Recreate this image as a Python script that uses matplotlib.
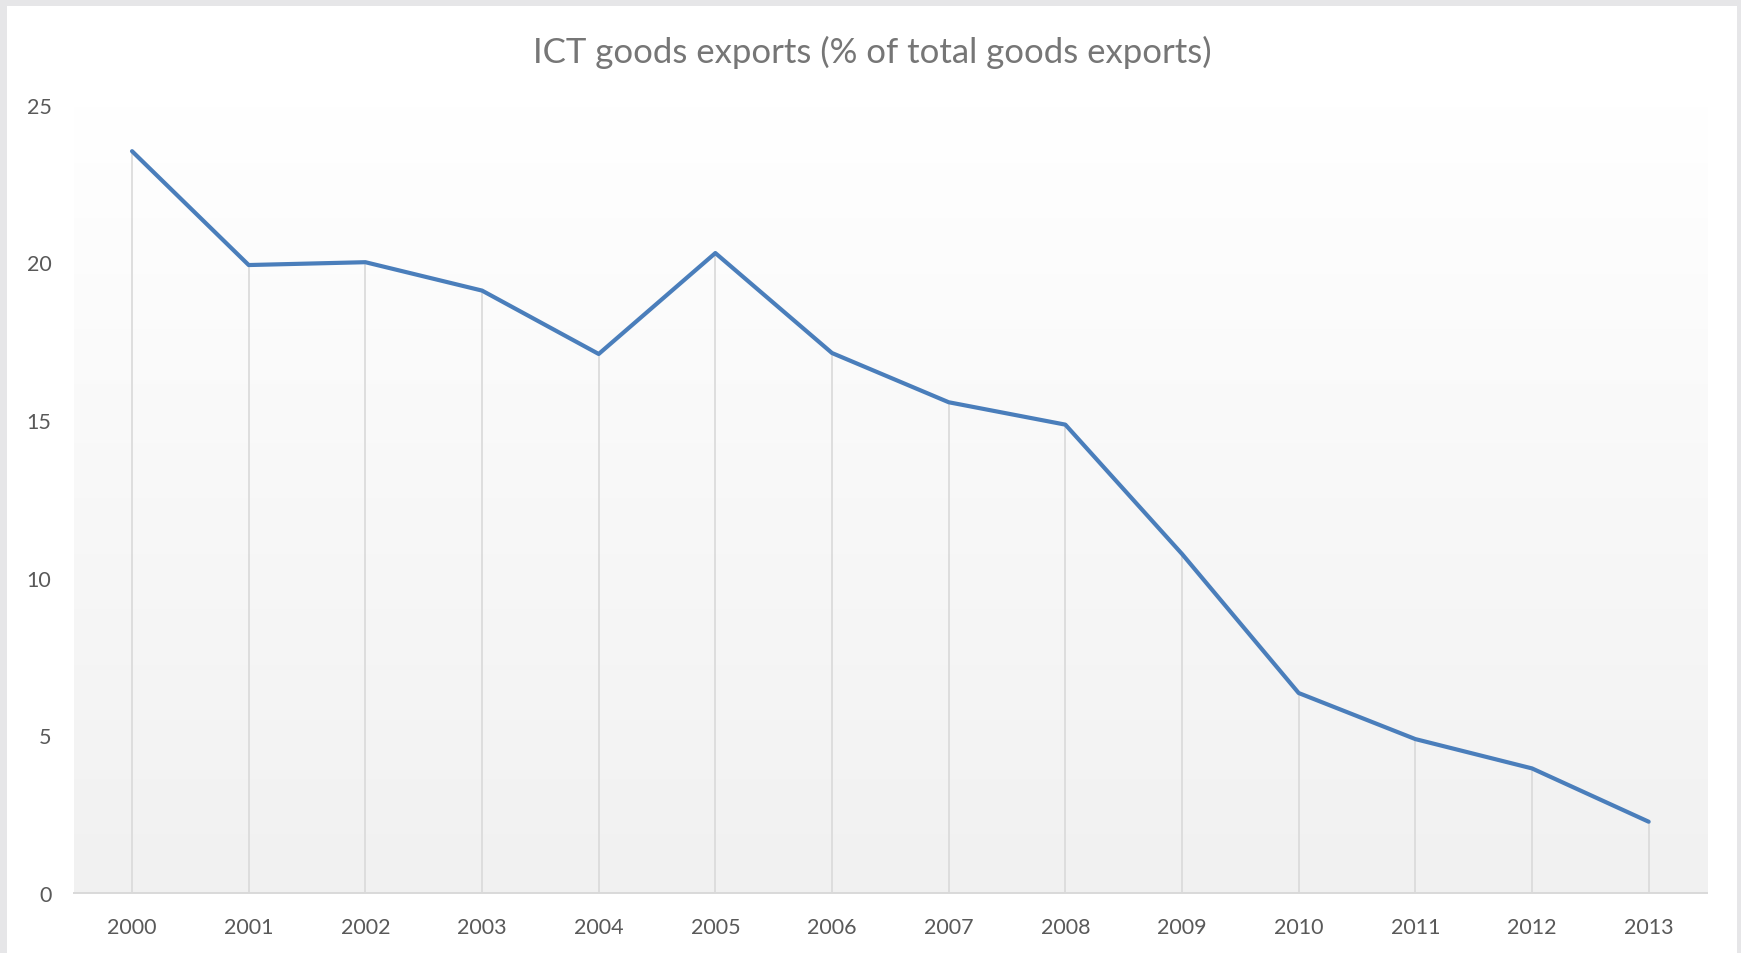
import matplotlib.pyplot as plt
import numpy as np
from matplotlib.patches import Rectangle

years = ["2000", "2001", "2002", "2003", "2004", "2005", "2006",
         "2007", "2008", "2009", "2010", "2011", "2012", "2013"]
ict_share = [23.52, 19.91, 20.0, 19.10, 17.09, 20.29, 17.12,
             15.56, 14.85, 10.75, 6.34, 4.88, 3.95, 2.26]
y_ticks = [0, 5, 10, 15, 20, 25]
title = "ICT goods exports (% of total goods exports)"

plt.rcParams['font.family'] = ['Lato', 'DejaVu Sans']

W, H = 1741, 954
fig = plt.figure(figsize=(W / 100, H / 100), dpi=100)
fig.patch.set_facecolor("#e6e6e8")
# white chart card over the grey background
card = Rectangle((7 / W, 0), (1737 - 7) / W, (H - 7) / H,
                 transform=fig.transFigure, facecolor="white",
                 edgecolor="none", zorder=-10)
fig.add_artist(card)

ax = fig.add_axes([73.7 / W, 1 - 894 / H, (1707 - 73.7) / W, (894 - 105.5) / H])
ax.set_zorder(1)
ax.set_facecolor("none")

x = np.arange(len(years))

# plot area gradient, white at the top to light grey at the bottom
grad = np.linspace(1.0, 0.945, 256).reshape(-1, 1)
ax.imshow(np.dstack([grad, grad, grad]), extent=[-0.5, len(years) - 0.5, 0, 25],
          aspect="auto", zorder=0, origin="upper")

# drop lines from the points down to the axis
ax.vlines(x, 0, ict_share, color="#d9d9d9", linewidth=1.2, zorder=1)
ax.plot(x, ict_share, color="#4a7ebb", linewidth=3.0,
        solid_joinstyle="round", solid_capstyle="round", zorder=3)

ax.set_xlim(-0.5, len(years) - 0.5)
ax.set_ylim(0, 25)
ax.set_xticks(x)
ax.set_xticklabels(years)
ax.set_yticks(y_ticks)

for s in ["top", "right", "left"]:
    ax.spines[s].set_visible(False)
ax.spines["bottom"].set_color("#d9d9d9")
ax.spines["bottom"].set_linewidth(1.4)

ax.tick_params(axis="both", length=0, labelsize=15.5, labelcolor="#595959")
ax.tick_params(axis="x", pad=17)
ax.tick_params(axis="y", pad=16)

fig.text(872 / W, 1 - 52 / H, title, ha="center", va="center",
         fontsize=25, color="#767676")

fig.savefig("out.png", dpi=100, facecolor=fig.get_facecolor())
